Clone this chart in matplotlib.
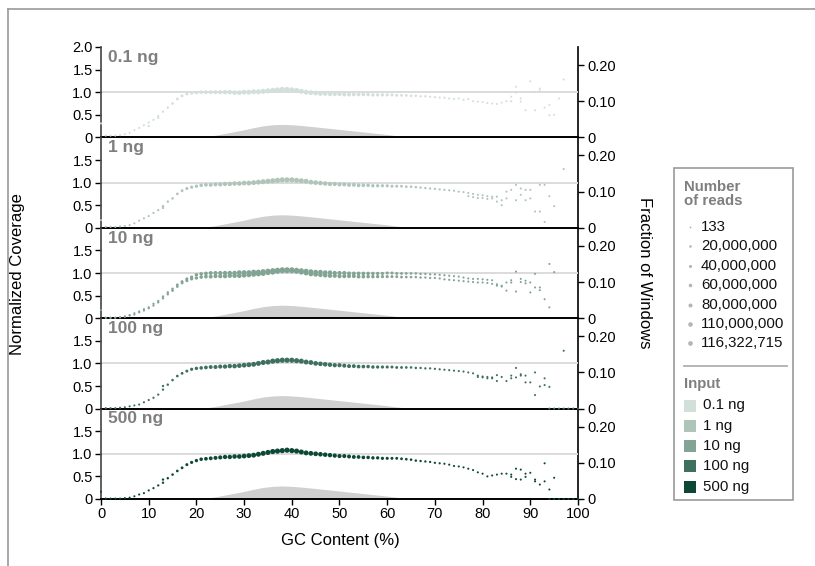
import numpy as np
import matplotlib
matplotlib.use("Agg")
import matplotlib.pyplot as plt
from matplotlib.patches import Rectangle

plt.rcParams['font.family'] = ['Liberation Sans', 'DejaVu Sans']

nan = np.nan
gc = np.arange(0, 101)

# -----------------------------
# Data
# -----------------------------
inputs = ["0.1 ng", "1 ng", "10 ng", "100 ng", "500 ng"]
input_colors = ["#d3e0d9", "#afc5ba", "#82a494", "#3d705d", "#0d4837"]

# reads per GC bin, millions (drives dot size)
reads_m = [0.5, 0.1, 0.1, 0.1, 0.2, 0.3, 0.5, 0.8, 1.2, 1.8,
           2.5, 3.5, 5, 7, 9, 12, 15, 19, 24, 30,
           36, 42, 48, 54, 60, 66, 72, 77, 82, 87,
           92, 96, 100, 104, 107, 110, 113, 115, 116, 116,
           114, 110, 105, 100, 95, 90, 85, 80, 75, 70,
           66, 62, 58, 54, 50, 46, 42, 38, 34, 30,
           27, 24, 21, 18, 15, 12, 10, 8, 6.5, 5,
           4, 3.2, 2.6, 2.1, 1.7, 1.4, 1.1, 0.9, 0.7, 0.6,
           0.5, 0.4, 0.35, 0.3, 0.25, 0.2, 0.17, 0.14, 0.12, 0.1,
           0.08, 0.06, 0.05, 0.04, 0.03, 0.02, 0.015, 0.01, 0.005, 0.002, 0.001]

# fraction of windows (gray area, right axis)
win_gc = [0, 18, 20, 22, 24, 26, 28, 30, 32, 34, 36, 38, 40, 42, 45, 50, 55, 60, 63, 66, 70, 100]
win_frac = [0, 0, 0.0005, 0.002, 0.006, 0.011, 0.016, 0.021, 0.027, 0.032, 0.035, 0.036,
            0.035, 0.033, 0.029, 0.022, 0.015, 0.008, 0.003, 0.0005, 0, 0]

cov_01 = [0.31, 0.04, 0.04, 0.04, 0.05, 0.07, 0.10, 0.16, 0.21, 0.27,
          0.33, 0.39, 0.47, 0.57, 0.66, 0.75, 0.85, 0.92, 0.96, 0.98,
          0.99, 1.00, 1.00, 1.00, 1.00, 1.00, 1.00, 1.00, 0.99, 0.99,
          1.00, 1.00, 1.01, 1.01, 1.02, 1.03, 1.04, 1.05, 1.06, 1.06,
          1.05, 1.04, 1.02, 1.00, 0.99, 0.98, 0.97, 0.97, 0.96, 0.96,
          0.96, 0.95, 0.95, 0.95, 0.95, 0.95, 0.95, 0.94, 0.94, 0.94,
          0.94, 0.94, 0.93, 0.93, 0.93, 0.92, 0.92, 0.91, 0.91, 0.90,
          0.89, 0.88, 0.88, 0.86, 0.85, 0.86, 0.83, 0.85, 0.80, 0.79,
          0.78, 0.76, 0.75, 0.74, 0.77, 0.80, 0.90, 1.12, 0.86, 0.60,
          1.24, 1.00, 1.03, 0.66, 0.72, 0.50, 0.86, 1.28, nan, nan, nan]
cov_01_b_gc = [10, 12, 86, 87, 88, 91, 92, 94]
cov_01_b = [0.25, 0.43, 0.80, 0.99, 0.79, 0.60, 1.08, 0.49]

cov_1 = [0.17, 0.02, 0.02, 0.02, 0.03, 0.04, 0.06, 0.10, 0.16, 0.21,
         0.26, 0.33, 0.39, 0.48, 0.58, 0.65, 0.75, 0.82, 0.87, 0.90,
         0.92, 0.94, 0.95, 0.95, 0.96, 0.96, 0.97, 0.97, 0.98, 0.98,
         0.99, 0.99, 1.00, 1.01, 1.02, 1.03, 1.04, 1.05, 1.06, 1.06,
         1.06, 1.05, 1.04, 1.03, 1.01, 1.00, 0.99, 0.98, 0.97, 0.97,
         0.96, 0.96, 0.95, 0.95, 0.94, 0.94, 0.94, 0.93, 0.93, 0.93,
         0.93, 0.92, 0.92, 0.92, 0.91, 0.91, 0.90, 0.89, 0.88, 0.87,
         0.86, 0.85, 0.84, 0.83, 0.82, 0.80, 0.79, 0.77, 0.75, 0.73,
         0.72, 0.70, 0.69, 0.69, 0.61, 0.80, 0.84, 0.95, 0.87, 0.84,
         0.84, 0.36, 0.95, 0.95, 0.70, 0.48, nan, 1.30, nan, nan, nan]
cov_1_b_gc = [13, 77, 78, 79, 80, 81, 82, 83, 84, 85, 87, 88, 89, 90, 92, 93]
cov_1_b = [0.44, 0.70, 0.68, 0.66, 0.66, 0.64, 0.65, 0.58, 0.50, 0.65,
           0.61, 0.73, 0.61, 0.65, 0.36, 0.13]

cov_10 = [0.18, 0.01, 0.01, 0.01, 0.02, 0.04, 0.07, 0.11, 0.15, 0.20,
          0.24, 0.32, 0.38, 0.48, 0.57, 0.65, 0.74, 0.81, 0.87, 0.91,
          0.96, 0.98, 0.99, 1.00, 1.00, 1.00, 1.00, 1.00, 1.00, 1.01,
          1.01, 1.01, 1.02, 1.02, 1.03, 1.04, 1.05, 1.06, 1.07, 1.07,
          1.07, 1.06, 1.05, 1.04, 1.03, 1.02, 1.02, 1.01, 1.01, 1.00,
          1.00, 1.00, 0.99, 0.99, 0.99, 0.99, 0.99, 0.99, 0.99, 0.99,
          1.00, 1.00, 0.99, 0.99, 0.99, 0.99, 0.99, 0.98, 0.98, 0.97,
          0.97, 0.96, 0.95, 0.94, 0.93, 0.92, 0.90, 0.88, 0.87, 0.87,
          0.86, 0.85, 0.84, 0.75, 0.72, 0.79, 0.79, 1.03, 0.87, 0.83,
          0.79, 0.98, 0.68, 0.42, 1.20, 1.02, nan, nan, nan, nan, nan]
cov_10_b_gc = list(range(1, 93)) + [94]
cov_10_b = [0.01, 0.01, 0.01, 0.02, 0.03, 0.06, 0.08, 0.13, 0.17,
            0.22, 0.28, 0.35, 0.44, 0.53, 0.61, 0.70, 0.78, 0.83, 0.87,
            0.89, 0.91, 0.92, 0.92, 0.93, 0.93, 0.93, 0.94, 0.94, 0.94,
            0.95, 0.96, 0.97, 0.98, 0.99, 1.01, 1.02, 1.04, 1.05, 1.05,
            1.05, 1.04, 1.02, 1.00, 0.98, 0.97, 0.96, 0.95, 0.94, 0.94,
            0.93, 0.93, 0.93, 0.93, 0.92, 0.92, 0.92, 0.92, 0.92, 0.92,
            0.92, 0.92, 0.92, 0.91, 0.91, 0.91, 0.91, 0.90, 0.90, 0.89,
            0.89, 0.88, 0.86, 0.85, 0.84, 0.83, 0.82, 0.81, 0.80, 0.79,
            0.79, 0.78, 0.76, 0.72, 0.70, 0.61, 0.84, 0.59, 0.80, 0.77,
            0.57, 0.68, 0.62, 0.24]

cov_100 = [0.16, 0.01, 0.01, 0.01, 0.02, 0.03, 0.05, 0.07, 0.09, 0.14,
           0.19, 0.24, 0.31, 0.42, 0.53, 0.63, 0.72, 0.78, 0.83, 0.87,
           0.89, 0.90, 0.91, 0.92, 0.92, 0.93, 0.93, 0.94, 0.94, 0.95,
           0.96, 0.97, 0.98, 1.00, 1.02, 1.03, 1.05, 1.06, 1.07, 1.07,
           1.07, 1.06, 1.05, 1.03, 1.02, 1.00, 0.99, 0.98, 0.97, 0.96,
           0.96, 0.95, 0.94, 0.94, 0.93, 0.93, 0.93, 0.92, 0.92, 0.92,
           0.92, 0.92, 0.91, 0.91, 0.91, 0.91, 0.90, 0.90, 0.89, 0.89,
           0.88, 0.87, 0.86, 0.85, 0.84, 0.83, 0.82, 0.80, 0.78, 0.73,
           0.71, 0.70, 0.69, 0.74, 0.70, 0.61, 0.73, 0.90, 0.76, 0.73,
           0.58, 0.80, 0.49, 0.67, 0.48, nan, nan, 1.28, nan, nan, nan]
cov_100_b_gc = [13, 79, 80, 81, 82, 83, 86, 87, 88, 89, 91, 93,
                94, 95, 96, 97, 98, 99, 100]
cov_100_b = [0.50, 0.70, 0.69, 0.67, 0.67, 0.61, 0.67, 0.69, 0.73, 0.58, 0.30, 0.52,
             0, 0, 0, 0, 0, 0, 0]

cov_500 = [0.16, 0.01, 0.01, 0.01, 0.01, 0.02, 0.03, 0.06, 0.10, 0.13,
           0.19, 0.24, 0.30, 0.36, 0.46, 0.54, 0.62, 0.69, 0.76, 0.81,
           0.85, 0.88, 0.89, 0.90, 0.91, 0.92, 0.93, 0.93, 0.94, 0.94,
           0.95, 0.96, 0.97, 0.99, 1.01, 1.03, 1.05, 1.06, 1.07, 1.08,
           1.07, 1.06, 1.04, 1.02, 1.01, 1.00, 0.99, 0.98, 0.97, 0.96,
           0.95, 0.95, 0.94, 0.93, 0.93, 0.92, 0.92, 0.91, 0.91, 0.90,
           0.90, 0.90, 0.90, 0.89, 0.88, 0.87, 0.85, 0.84, 0.83, 0.82,
           0.80, 0.79, 0.78, 0.76, 0.73, 0.72, 0.70, 0.67, 0.64, 0.59,
           0.56, 0.50, 0.52, 0.54, 0.56, 0.56, 0.54, 0.67, 0.65, 0.56,
           0.58, 0.43, 0.32, 0.79, 0.21, 0.47, 0, 0, 0, 0, 0]
cov_500_b_gc = [13, 86, 87, 88, 89, 91, 93, 94, 95]
cov_500_b = [0.43, 0.49, 0.44, 0.43, 0.49, 0.39, 0.39, 0, 0]

panels = [
    (cov_01, cov_01_b_gc, cov_01_b),
    (cov_1, cov_1_b_gc, cov_1_b),
    (cov_10, cov_10_b_gc, cov_10_b),
    (cov_100, cov_100_b_gc, cov_100_b),
    (cov_500, cov_500_b_gc, cov_500_b),
]

size_reads = [133, 20e6, 40e6, 60e6, 80e6, 110e6, 116322715]
size_labels = ["133", "20,000,000", "40,000,000", "60,000,000",
               "80,000,000", "110,000,000", "116,322,715"]


def dot_size(reads_millions):
    return 2.2 + 12.0 * np.asarray(reads_millions, dtype=float) / 116.3


# -----------------------------
# Layout (pixels)
# -----------------------------
W, H = 815, 566
left_px, right_px = 101, 578
top_px, bot_px = 47, 499
ph = (bot_px - top_px) / 5.0

fig = plt.figure(figsize=(W / 100, H / 100), dpi=100)
reads_arr = np.array(reads_m)

for i, name in enumerate(inputs):
    y0 = top_px + i * ph
    ax = fig.add_axes([left_px / W, 1 - (y0 + ph) / H, (right_px - left_px) / W, ph / H])
    ax2 = ax.twinx()

    # gray area: fraction of windows
    ax2.fill_between(win_gc, win_frac, color="#d0d0d0", lw=0)
    ax2.set_ylim(0, 0.25)
    ax2.set_yticks([0, 0.10, 0.20])
    ax2.set_yticklabels(["0", "0.10", "0.20"])
    ax2.tick_params(axis="y", direction="out", length=4, width=1, labelsize=10.5, pad=3)
    for s in ["top", "left", "bottom"]:
        ax2.spines[s].set_visible(False)
    ax2.spines["right"].set_linewidth(1.2)
    ax2.spines["right"].set_color("black")

    ax.set_zorder(ax2.get_zorder() + 1)
    ax.patch.set_visible(False)

    ax.axhline(1.0, color="#dcdcdc", lw=1.4, zorder=1)

    cov_a, gc_b, cov_b = panels[i]
    col = input_colors[i]
    ax.scatter(gc, cov_a, s=dot_size(reads_arr), c=col, lw=0, zorder=3, clip_on=False)
    ax.scatter(gc_b, cov_b, s=dot_size(reads_arr[gc_b]), c=col, lw=0, zorder=3, clip_on=False)

    ax.set_xlim(0, 100)
    ax.set_ylim(0, 2.0)
    if i == 0:
        ax.set_yticks([0, 0.5, 1.0, 1.5, 2.0])
        ax.set_yticklabels(["0", "0.5", "1.0", "1.5", "2.0"])
    else:
        ax.set_yticks([0, 0.5, 1.0, 1.5])
        ax.set_yticklabels(["0", "0.5", "1.0", "1.5"])
    ax.tick_params(axis="y", direction="out", length=4, width=1, labelsize=10.5, pad=2)

    ax.spines["top"].set_visible(False)
    ax.spines["right"].set_visible(False)
    ax.spines["left"].set_color("#444444")
    ax.spines["left"].set_linewidth(1.2)
    ax.spines["bottom"].set_color("black")
    ax.spines["bottom"].set_linewidth(1.4)

    if i == len(inputs) - 1:
        ax.set_xticks(range(0, 101, 10))
        ax.tick_params(axis="x", direction="out", length=4, width=1, labelsize=10.5, pad=2)
    else:
        ax.tick_params(axis="x", bottom=False, labelbottom=False)

    ax.text(0.015, 0.97, name, transform=ax.transAxes, ha="left", va="top",
            fontsize=12.5, fontweight="bold", color="#7f7f7f")

# axis titles
fig.text(18 / W, 1 - 274 / H, "Normalized Coverage", rotation=90,
         ha="center", va="center", fontsize=12)
fig.text(645 / W, 1 - 273 / H, "Fraction of Windows", rotation=-90,
         ha="center", va="center", fontsize=12)
fig.text(340 / W, 1 - 540 / H, "GC Content (%)", ha="center", va="center", fontsize=12)

# -----------------------------
# Legend + frame, drawn in pixel coordinates
# -----------------------------
lax = fig.add_axes([0, 0, 1, 1])
lax.set_xlim(0, W)
lax.set_ylim(H, 0)
lax.axis("off")

lax.plot([8, 8], [9, H + 5], color="#999999", lw=1.2, clip_on=False)
lax.plot([8, W + 5], [9, 9], color="#999999", lw=1.2, clip_on=False)

lax.add_patch(Rectangle((674, 168), 119, 332, fill=False, ec="#9a9a9a", lw=1.2))
lax.text(684, 180, "Number\nof reads", ha="left", va="top", fontsize=10.8,
         fontweight="bold", color="#7f7f7f", linespacing=1.0)

for k, (r, lab) in enumerate(zip(size_reads, size_labels)):
    yc = 227 + k * 19.4
    lax.scatter([690], [yc], s=dot_size(r / 1e6) * 0.8, c="#b5b5b5", lw=0)
    lax.text(701, yc, lab, ha="left", va="center", fontsize=10.8, color="#111111")

lax.plot([684, 787], [366, 366], color="#b0b0b0", lw=1.3)
lax.text(684, 384, "Input", ha="left", va="center", fontsize=10.8,
         fontweight="bold", color="#7f7f7f")

for k, (name, col) in enumerate(zip(inputs, input_colors)):
    yc = 405.5 + k * 20.3
    lax.add_patch(Rectangle((684, yc - 6), 12, 12, color=col, lw=0))
    lax.text(703, yc, name, ha="left", va="center", fontsize=10.8, color="#111111")

fig.savefig("out.png", dpi=100)
